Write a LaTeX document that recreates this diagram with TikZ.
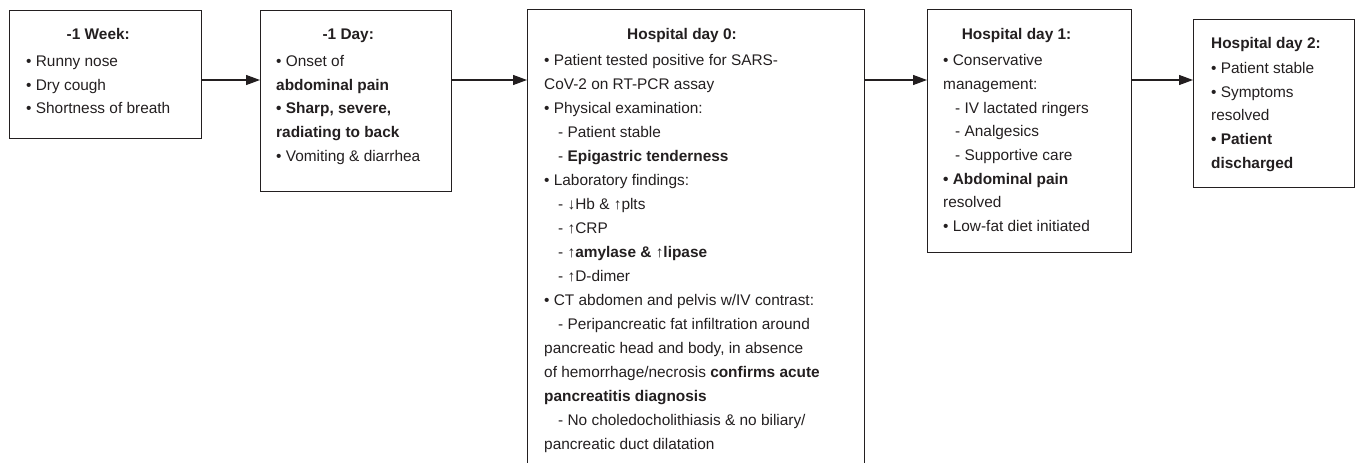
\documentclass[tikz,border=0pt]{standalone}
\usepackage{fontspec}
\setmainfont{Liberation Sans}
\usetikzlibrary{arrows.meta}
\definecolor{ink}{HTML}{231F20}
\tikzset{
  box/.style={draw=ink, line width=1.2pt, anchor=north west, inner sep=0pt, fill=none},
  txt/.style={anchor=base west, inner sep=0pt, text=ink, font=\fontsize{15.4}{23.7}\selectfont},
  arr/.style={draw=ink, line width=1.2pt, -{Triangle[length=14pt,width=10pt]}},
}
\newcommand{\ttl}[1]{\multicolumn{1}{@{}c@{}}{\bfseries #1}}
\newcommand{\ind}{\hspace*{14pt}}
\begin{document}
\begin{tikzpicture}[x=1pt,y=-1pt]
\useasboundingbox (0,0) rectangle (1355,463);
\clip (0,0) rectangle (1355,463);
\coordinate (lvl) at (0,80);
% boxes
\node[box, minimum width=192pt, minimum height=128pt] (b1) at (9,10) {};
\node[box, minimum width=191pt, minimum height=181pt] (b2) at (260,10) {};
\node[box, minimum width=337pt, minimum height=466pt] (b3) at (527,9) {};
\node[box, minimum width=204pt, minimum height=243pt] (b4) at (927,9) {};
\node[box, minimum width=161pt, minimum height=168pt] (b5) at (1193,19) {};
% texts
\node[txt] (t1) at (26,39.3) {\begin{tabular}[t]{@{}l@{}}
\ttl{-1 Week:}\\[3.5pt]
• Runny nose\\
• Dry cough\\
• Shortness of breath
\end{tabular}};
\node[txt] (t2) at (276,39.3) {\begin{tabular}[t]{@{}l@{}}
\ttl{-1 Day:}\\[3.5pt]
• Onset of\\
\textbf{abdominal pain}\\
\textbf{• Sharp, severe,}\\
\textbf{radiating to back}\\
• Vomiting \& diarrhea
\end{tabular}};
\node[txt, font=\fontsize{15.4}{24}\selectfont] (t3) at (544,39) {\begin{tabular}[t]{@{}l@{}}
\ttl{Hospital day 0:}\\[2.7pt]
• Patient tested positive for SARS-\\
CoV-2 on RT-PCR assay\\
• Physical examination:\\
\ind- Patient stable\\
\ind- \textbf{Epigastric tenderness}\\
• Laboratory findings:\\
\ind- ↓Hb \& ↑plts\\
\ind- ↑CRP\\
\ind- ↑\textbf{amylase \& }↑\textbf{lipase}\\
\ind- ↑D-dimer\\
• CT abdomen and pelvis w/IV contrast:\\
\ind- Peripancreatic fat infiltration around\\
pancreatic head and body, in absence\\
of hemorrhage/necrosis \textbf{confirms acute}\\
\textbf{pancreatitis diagnosis}\\
\ind- No choledocholithiasis \& no biliary/\\
pancreatic duct dilatation
\end{tabular}};
\node[txt] (t4) at (943,39) {\begin{tabular}[t]{@{}l@{}}
\ttl{Hospital day 1:}\\[3pt]
• Conservative\\
management:\\
\hspace*{12pt}- IV lactated ringers\\
\hspace*{12pt}- Analgesics\\
\hspace*{12pt}- Supportive care\\
\textbf{• Abdominal pain}\\
resolved\\
• Low-fat diet initiated
\end{tabular}};
\node[txt] (t5) at (1211,48.3) {\begin{tabular}[t]{@{}l@{}}
\textbf{Hospital day 2:}\\[1.3pt]
• Patient stable\\
• Symptoms\\
resolved\\
\textbf{• Patient}\\
\textbf{discharged}
\end{tabular}};
% arrows
\draw[arr] (b1.east |- lvl) -- (b2.west |- lvl);
\draw[arr] (b2.east |- lvl) -- (b3.west |- lvl);
\draw[arr] (b3.east |- lvl) -- (b4.west |- lvl);
\draw[arr] (b4.east |- lvl) -- (b5.west |- lvl);
\end{tikzpicture}
\end{document}
